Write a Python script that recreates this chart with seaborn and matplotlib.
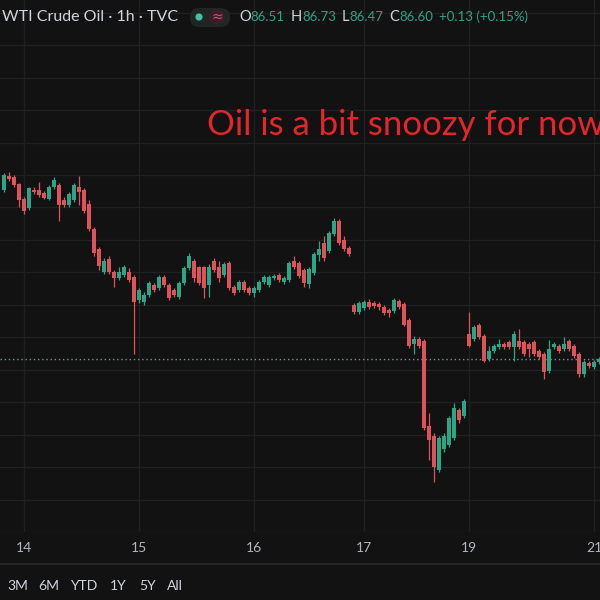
import matplotlib
matplotlib.use("Agg")
import matplotlib.pyplot as plt
import seaborn as sns
import numpy as np
import pandas as pd
from matplotlib.patches import FancyBboxPatch, Circle
from matplotlib.lines import Line2D

# hourly WTI candles
opens = [88.33, 88.47, 88.46, 88.39, 88.24, 88.14, 88.33, 88.33, 88.30, 88.24,
         88.36, 88.38, 88.23, 88.18, 88.23, 88.36, 88.33, 88.19, 87.93, 87.73,
         87.49, 87.63, 87.49, 87.43, 87.46, 87.49, 87.44, 87.21, 87.19, 87.26,
         87.36, 87.33, 87.44, 87.36, 87.31, 87.24, 87.38, 87.53, 87.61, 87.54,
         87.54, 87.36, 87.61, 87.54, 87.46, 87.59, 87.34, 87.31, 87.39, 87.33,
         87.28, 87.31, 87.39, 87.36, 87.43, 87.46, 87.39, 87.41, 87.61, 87.59,
         87.51, 87.37, 87.48, 87.67, 87.79, 87.71, 87.88, 88.01, 87.82, 87.74,
         87.16, 87.09, 87.13, 87.19, 87.18, 87.17, 87.14, 87.11, 87.10, 87.20,
         87.17, 87.01, 86.76, 86.81, 86.79, 85.93, 85.83, 85.48, 85.69, 85.73,
         85.81, 86.09, 86.03, 86.86, 86.81, 86.96, 86.84, 86.61, 86.69, 86.73,
         86.76, 86.78, 86.73, 86.79, 86.78, 86.76, 86.78, 86.69, 86.66, 86.49,
         86.73, 86.74, 86.71, 86.79, 86.74, 86.66, 86.46, 86.57, 86.53, 86.58]
highs = [88.50, 88.51, 88.48, 88.40, 88.26, 88.36, 88.36, 88.41, 88.32, 88.38,
         88.46, 88.40, 88.26, 88.31, 88.40, 88.47, 88.35, 88.23, 87.95, 87.75,
         87.64, 87.66, 87.51, 87.54, 87.57, 87.53, 87.46, 87.33, 87.29, 87.40,
         87.38, 87.46, 87.46, 87.38, 87.33, 87.40, 87.55, 87.69, 87.63, 87.56,
         87.56, 87.58, 87.64, 87.61, 87.60, 87.61, 87.36, 87.41, 87.41, 87.35,
         87.35, 87.41, 87.46, 87.46, 87.47, 87.48, 87.45, 87.61, 87.66, 87.61,
         87.53, 87.54, 87.70, 87.81, 87.86, 87.91, 88.04, 88.03, 87.86, 87.76,
         87.18, 87.20, 87.21, 87.22, 87.20, 87.19, 87.16, 87.13, 87.23, 87.22,
         87.19, 87.03, 86.84, 86.83, 86.81, 86.06, 85.86, 85.83, 85.86, 86.03,
         86.16, 86.11, 86.20, 87.09, 86.96, 86.98, 86.86, 86.74, 86.76, 86.81,
         86.78, 86.80, 86.89, 86.91, 86.80, 86.78, 86.80, 86.71, 86.68, 86.80,
         86.78, 86.76, 86.83, 86.81, 86.76, 86.68, 86.60, 86.59, 86.60, 86.63]
lows = [88.31, 88.42, 88.36, 88.16, 88.08, 88.12, 88.29, 88.26, 88.24, 88.23,
        88.34, 88.01, 88.16, 88.16, 88.21, 88.18, 88.09, 87.91, 87.66, 87.51,
        87.47, 87.47, 87.34, 87.41, 87.44, 87.39, 86.66, 87.18, 87.16, 87.24,
        87.29, 87.31, 87.34, 87.21, 87.24, 87.22, 87.36, 87.51, 87.39, 87.36,
        87.23, 87.24, 87.49, 87.39, 87.44, 87.31, 87.26, 87.29, 87.29, 87.26,
        87.24, 87.29, 87.37, 87.34, 87.41, 87.39, 87.37, 87.39, 87.52, 87.43,
        87.34, 87.33, 87.46, 87.61, 87.61, 87.69, 87.86, 87.77, 87.71, 87.66,
        87.07, 87.07, 87.11, 87.12, 87.13, 87.11, 87.06, 87.04, 87.08, 87.12,
        86.94, 86.72, 86.66, 86.72, 85.89, 85.58, 85.36, 85.46, 85.66, 85.71,
        85.79, 85.96, 86.01, 86.73, 86.79, 86.81, 86.58, 86.59, 86.67, 86.71,
        86.71, 86.71, 86.59, 86.71, 86.64, 86.63, 86.64, 86.61, 86.41, 86.47,
        86.71, 86.67, 86.69, 86.69, 86.62, 86.43, 86.43, 86.52, 86.51, 86.56]
closes = [88.48, 88.44, 88.38, 88.23, 88.11, 88.35, 88.31, 88.28, 88.25, 88.36,
          88.43, 88.18, 88.18, 88.29, 88.38, 88.31, 88.11, 87.93, 87.69, 87.56,
          87.61, 87.49, 87.43, 87.49, 87.54, 87.41, 87.19, 87.31, 87.26, 87.38,
          87.31, 87.44, 87.36, 87.23, 87.26, 87.38, 87.53, 87.66, 87.43, 87.38,
          87.33, 87.54, 87.51, 87.43, 87.58, 87.33, 87.28, 87.39, 87.31, 87.28,
          87.33, 87.39, 87.44, 87.44, 87.45, 87.41, 87.43, 87.59, 87.54, 87.45,
          87.38, 87.52, 87.68, 87.73, 87.64, 87.89, 88.01, 87.79, 87.73, 87.68,
          87.09, 87.18, 87.19, 87.14, 87.15, 87.14, 87.08, 87.08, 87.21, 87.14,
          86.96, 86.74, 86.81, 86.74, 85.91, 85.79, 85.51, 85.81, 85.83, 86.01,
          86.11, 85.99, 86.18, 86.74, 86.93, 86.83, 86.59, 86.69, 86.74, 86.76,
          86.73, 86.73, 86.86, 86.73, 86.66, 86.71, 86.66, 86.63, 86.48, 86.71,
          86.76, 86.69, 86.76, 86.71, 86.64, 86.46, 86.58, 86.54, 86.58, 86.61]

day_labels = ['14', '15', '16', '17', '19', '21']
day_start_bar = [4, 27, 50, 72, 93, 118]

range_buttons = ['3M', '6M', 'YTD', '1Y', '5Y', 'All']
header_title = 'WTI Crude Oil · 1h · TVC'
header_keys = ['O', 'H', 'L', 'C']
header_vals = ['86.51', '86.73', '86.47', '86.60']
header_change = '+0.13 (+0.15%)'
note = 'Oil is a bit snoozy for now'

BG = '#121212'
GRID = '#202020'
UP = '#2aa585'
DOWN = '#e0525a'
TXT = '#d1d4dc'

sns.set_theme(style='dark', rc={'figure.facecolor': BG, 'axes.facecolor': BG,
                                'grid.color': GRID, 'axes.grid': True})
plt.rcParams['font.family'] = ['Lato', 'DejaVu Sans']

df = pd.DataFrame({'open': opens, 'high': highs, 'low': lows, 'close': closes})
df['bar'] = np.arange(len(df))
df['up'] = df['close'] >= df['open']
df['color'] = np.where(df['up'], UP, DOWN)
df['body_lo'] = df[['open', 'close']].min(axis=1)
df['body_h'] = (df['close'] - df['open']).abs().clip(lower=0.012)

W, H = 600, 600
fig = plt.figure(figsize=(6, 6), dpi=100)
ax = fig.add_axes([0, 68 / H, 1, 532 / H])

ax.vlines(df['bar'], df['low'], df['high'], colors=df['color'], lw=0.9, zorder=3)
ax.bar(df['bar'], df['body_h'], bottom=df['body_lo'], width=0.72,
       color=df['color'], linewidth=0, zorder=4)

last = df['close'].iloc[-1]
ax.axhline(last, color='#5f9e92', lw=1.0, ls=(0, (1, 2)), zorder=2)

ax.set_xlim(-0.8, len(df) - 0.8)
ax.set_ylim(84.94, 90.26)
ax.set_yticks(86.83 + 0.33 * np.arange(-6, 11))
ax.set_xticks(day_start_bar)
ax.set_xticklabels(day_labels)
ax.tick_params(axis='x', length=0, pad=7, labelsize=10, labelcolor='#b2b5be')
ax.tick_params(axis='y', left=False, labelleft=False)
ax.grid(True, color=GRID, lw=1.0)
for s in ax.spines.values():
    s.set_visible(False)

# bottom separator and range buttons
fig.add_artist(Line2D([0, 1], [1 - 564 / H] * 2, color='#2a2a2a', lw=1.3))
btn_x = [7, 38, 70, 110, 139, 167]
for lab, x in zip(range_buttons, btn_x):
    fig.text(x / W, 1 - 586 / H, lab, color=TXT, fontsize=10, va='center', ha='left')

# header line
fig.canvas.draw()
rend = fig.canvas.get_renderer()


def put(x_px, s, color, size=9.5):
    t = fig.text(x_px / W, 1 - 17 / H, s, color=color, fontsize=size, va='center', ha='left')
    return x_px + t.get_window_extent(rend).width


put(2, header_title, TXT, 11.5)
pill = FancyBboxPatch((190 / W, 1 - 27 / H), 40 / W, 19 / H,
                      boxstyle='round,pad=0,rounding_size=0.015',
                      transform=fig.transFigure, fc='#1f2623', ec='none')
fig.add_artist(pill)
fig.add_artist(Circle((199 / W, 1 - 17 / H), 3.6 / W, transform=fig.transFigure,
                      fc='#3fc3a0', ec='none'))
fig.add_artist(Circle((217 / W, 1 - 17 / H), 8 / W, transform=fig.transFigure,
                      fc='#3a1f28', ec='none'))
fig.text(217 / W, 1 - 17 / H, '≈', color='#e0457a', fontsize=10,
         ha='center', va='center', family='DejaVu Sans')

x = 239
for k, v in zip(header_keys, header_vals):
    x = put(x, k, TXT, 10.5)
    x = put(x, v, UP) + 6
put(x, header_change, UP)

fig.text(207 / W, 1 - 125 / H, note, color='#e3262b', fontsize=25, va='center', ha='left')

fig.savefig('out.png', dpi=100, facecolor=BG)
